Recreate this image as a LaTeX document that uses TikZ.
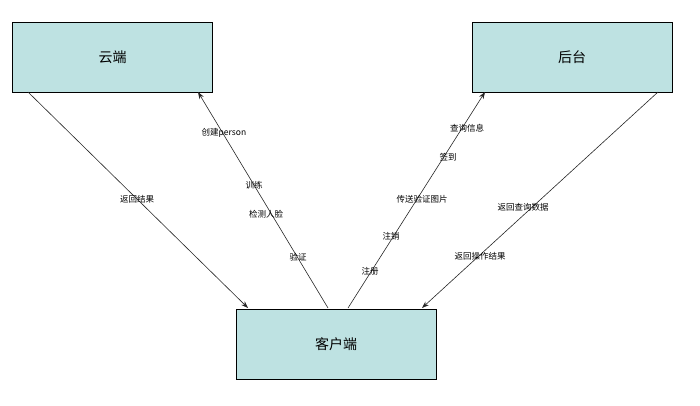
\documentclass[tikz,border=0pt]{standalone}
\usepackage{fontspec}
\newfontfamily\cjk{Noto Sans CJK SC}
\usetikzlibrary{arrows.meta}
\definecolor{boxfill}{HTML}{BEE2E2}
\tikzset{
  box/.style={draw=black, fill=boxfill, minimum width=200pt, minimum height=70pt, inner sep=0pt, font=\cjk\fontsize{14}{16}\selectfont},
  lbl/.style={font=\cjk\fontsize{8.5}{10}\selectfont, inner sep=0pt, fill=white, fill opacity=0, text opacity=1},
  conn/.style={draw=black!85, line width=0.6pt, -{Stealth[length=7pt,width=5pt]}}
}
\begin{document}
\begin{tikzpicture}[x=1pt,y=-1pt]
\useasboundingbox (0,0) rectangle (700,406);
\node[box] (cloud) at (112.5,57) {云端};
\node[box] (back) at (572,57) {后台};
\node[box] (client) at (336,344) {客户端};
\coordinate (c1) at (28,92);
\coordinate (c2) at (198,92);
\coordinate (b1) at (485,92);
\coordinate (b2) at (658,92);
\coordinate (k1) at (248,308);
\coordinate (k2) at (328,308);
\coordinate (k3) at (348,308);
\coordinate (k4) at (422,308);
\draw[conn] (c1) -- (k1);
\draw[conn] (k2) -- (c2);
\draw[conn] (k3) -- (b1);
\draw[conn] (b2) -- (k4);
\node[lbl] (l1) at (137,199) {返回结果};
\node[lbl] (l2) at (224,133) {创建person};
\node[lbl] (l3) at (254,185) {训练};
\node[lbl] (l4) at (266,214) {检测人脸};
\node[lbl] (l5) at (298,257) {验证};
\node[lbl] (l6) at (467,128) {查询信息};
\node[lbl] (l7) at (448,157) {签到};
\node[lbl] (l8) at (422,199) {传送验证图片};
\node[lbl] (l9) at (391,236) {注销};
\node[lbl] (l10) at (370,271) {注册};
\node[lbl] (l11) at (523,207) {返回查询数据};
\node[lbl] (l12) at (480,256) {返回操作结果};
\end{tikzpicture}
\end{document}
